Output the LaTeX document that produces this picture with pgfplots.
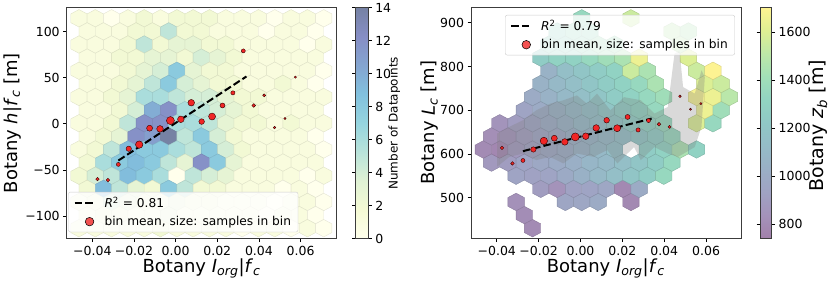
\documentclass[border=0pt]{standalone}
\usepackage{fontspec}
\setmainfont{DejaVu Sans}
\usepackage{pgfplots}
\pgfplotsset{compat=1.18}
\definecolor{dotred}{RGB}{240,38,38}
\definecolor{framegray}{RGB}{60,60,60}
\newcommand\tickfont{\fontsize{12.5}{15}\selectfont}
\newcommand\labfont{\fontsize{18}{21}\selectfont}
\newcommand\legfont{\fontsize{12.2}{14}\selectfont}
\pgfdeclareplotmark{hexL}{%
 \pgfpathmoveto{\pgfpoint{0pt}{8.73pt}}%
 \pgfpathlineto{\pgfpoint{8.16pt}{4.36pt}}%
 \pgfpathlineto{\pgfpoint{8.16pt}{-4.36pt}}%
 \pgfpathlineto{\pgfpoint{0pt}{-8.73pt}}%
 \pgfpathlineto{\pgfpoint{-8.16pt}{-4.36pt}}%
 \pgfpathlineto{\pgfpoint{-8.16pt}{4.36pt}}%
 \pgfpathclose\pgfusepathqfillstroke}
\pgfdeclareplotmark{hexR}{%
 \pgfpathmoveto{\pgfpoint{0pt}{8.76pt}}%
 \pgfpathlineto{\pgfpoint{8.2pt}{4.38pt}}%
 \pgfpathlineto{\pgfpoint{8.2pt}{-4.38pt}}%
 \pgfpathlineto{\pgfpoint{0pt}{-8.76pt}}%
 \pgfpathlineto{\pgfpoint{-8.2pt}{-4.38pt}}%
 \pgfpathlineto{\pgfpoint{-8.2pt}{4.38pt}}%
 \pgfpathclose\pgfusepathqfillstroke}
\pgfplotsset{
 colormap={ylgnbuA}{rgb255(0cm)=(255,255,236); rgb255(1cm)=(245,250,212); rgb255(2cm)=(224,242,212); rgb255(3cm)=(185,227,218); rgb255(4cm)=(150,213,223); rgb255(5cm)=(130,193,222); rgb255(6cm)=(132,165,208); rgb255(7cm)=(134,142,197); rgb255(8cm)=(118,130,164)},
 colormap={viridisA}{rgb255(0cm)=(162,128,170); rgb255(1cm)=(164,146,186); rgb255(2cm)=(160,162,195); rgb255(3cm)=(154,175,198); rgb255(4cm)=(149,188,199); rgb255(5cm)=(144,200,198); rgb255(6cm)=(145,212,194); rgb255(7cm)=(162,223,184); rgb255(8cm)=(189,232,168); rgb255(9cm)=(222,239,147); rgb255(10cm)=(254,243,146)},
 dashleg/.style={legend image code/.code={\draw[##1] (0pt,0pt) -- (21pt,0pt);}},
 base/.style={scale only axis, height=230.9pt, xmin=-0.0523, xmax=0.0770,
   axis on top, tick align=outside, major tick length=3.5pt,
   xtick pos=left, ytick pos=left,
   tick style={black, line width=0.8pt},
   axis line style={framegray, line width=0.8pt},
   ticklabel style={font=\tickfont},
   label style={font=\labfont},
   xtick={-0.04,-0.02,0,0.02,0.04,0.06},
   xticklabels={−0.04,−0.02,0.00,0.02,0.04,0.06},
   scaled ticks=false,
 },
 over/.style={scale only axis, height=230.9pt, xmin=-0.0523, xmax=0.0770, hide axis,
   legend cell align=left,
   legend style={fill=white, fill opacity=0.8, text opacity=1, draw=black!20, draw opacity=1, rounded corners=2pt, font=\legfont, nodes={font=\legfont}, inner xsep=5pt, inner ysep=3pt, row sep=3pt, /tikz/every odd column/.append style={column sep=6pt}},
 },
 cbbase/.style={tick align=outside, major tick length=3.5pt, tick style={black, line width=0.8pt}, axis line style={framegray, line width=0.8pt}, yticklabel style={font=\tickfont}},
 dots/.style={scatter, only marks, mark=*,
  scatter/use mapped color={draw=black!80!red, fill=dotred},
  visualization depends on={\thisrow{r} \as \rad},
  scatter/@pre marker code/.append style={/tikz/mark size=\rad},
  mark options={line width=0.4pt}, forget plot},
}
\begin{document}
\begin{tikzpicture}
\useasboundingbox (0,0) rectangle (830pt,283pt);
% ---------------- left ----------------
\begin{axis}[base, at={(66.7pt,44.3pt)}, anchor=south west, width=269.3pt,
  ymin=-124.7, ymax=126.1,
  ytick={-100,-50,0,50,100}, yticklabels={−100,−50,0,50,100},
  xlabel={Botany \textit{I}\textsubscript{\textit{org}}|\textit{f}\textsubscript{\textit{c}}},
  ylabel={Botany \textit{h}|\textit{f}\textsubscript{\textit{c}} [m]},
  xlabel style={at={(axis description cs:0.501,-0.128)}, anchor=center},
  ylabel style={at={(axis description cs:-0.201,0.5)}, anchor=center},
  colormap name=ylgnbuA, point meta min=0, point meta max=14,
  colorbar, colorbar style={cbbase, width=12.4pt, at={(parent axis.north east)}, anchor=north west, xshift=11.3pt,
    ytick={0,2,4,6,8,10,12,14}, yticklabels={0,2,4,6,8,10,12,14},
    ylabel={Number of Datapoints}, ylabel style={font=\fontsize{12}{14}\selectfont, at={(axis description cs:3.1,0.5)}, anchor=center}}]
\addplot[scatter, only marks, mark=hexL, point meta=explicit, scatter/use mapped color={draw=mapped color!90!black, fill=mapped color}, mark options={line width=0.4pt}, forget plot] coordinates {
(-0.04642,114.7)[1] (-0.03858,114.7)[1] (-0.03075,114.7)[0] (-0.02291,114.7)[1] (-0.01508,114.7)[2] (-0.00724,114.7)[1] (0.0006,114.7)[2] (0.00843,114.7)[2] (0.01627,114.7)[2] (0.0241,114.7)[1] (0.03194,114.7)[1] (0.03978,114.7)[1] (0.04761,114.7)[0] (0.05545,114.7)[1] (0.06328,114.7)[1] (0.07112,114.7)[0]
(-0.0425,100.45)[1] (-0.03466,100.45)[1] (-0.02683,100.45)[1] (-0.01899,100.45)[2] (-0.01116,100.45)[2] (-0.00332,100.45)[5] (0.00452,100.45)[2] (0.01235,100.45)[2] (0.02019,100.45)[1] (0.02802,100.45)[1] (0.03586,100.45)[1] (0.0437,100.45)[0] (0.05153,100.45)[1] (0.05937,100.45)[1] (0.0672,100.45)[0]
(-0.04642,86.2)[1] (-0.03858,86.2)[1] (-0.03075,86.2)[1] (-0.02291,86.2)[2] (-0.01508,86.2)[5] (-0.00724,86.2)[2] (0.0006,86.2)[3] (0.00843,86.2)[3] (0.01627,86.2)[2] (0.0241,86.2)[2] (0.03194,86.2)[1] (0.03978,86.2)[1] (0.04761,86.2)[1] (0.05545,86.2)[1] (0.06328,86.2)[0] (0.07112,86.2)[1]
(-0.0425,71.95)[1] (-0.03466,71.95)[1] (-0.02683,71.95)[2] (-0.01899,71.95)[2] (-0.01116,71.95)[3] (-0.00332,71.95)[3] (0.00452,71.95)[2] (0.01235,71.95)[4] (0.02019,71.95)[3] (0.02802,71.95)[2] (0.03586,71.95)[1] (0.0437,71.95)[1] (0.05153,71.95)[1] (0.05937,71.95)[1] (0.0672,71.95)[1]
(-0.04642,57.7)[1] (-0.03858,57.7)[1] (-0.03075,57.7)[1] (-0.02291,57.7)[2] (-0.01508,57.7)[3] (-0.00724,57.7)[4] (0.0006,57.7)[8] (0.00843,57.7)[3] (0.01627,57.7)[2] (0.0241,57.7)[2] (0.03194,57.7)[1] (0.03978,57.7)[1] (0.04761,57.7)[1] (0.05545,57.7)[1] (0.06328,57.7)[1] (0.07112,57.7)[0]
(-0.0425,43.45)[1] (-0.03466,43.45)[1] (-0.02683,43.45)[2] (-0.01899,43.45)[3] (-0.01116,43.45)[5] (-0.00332,43.45)[8] (0.00452,43.45)[4] (0.01235,43.45)[3] (0.02019,43.45)[2] (0.02802,43.45)[2] (0.03586,43.45)[1] (0.0437,43.45)[1] (0.05153,43.45)[2] (0.05937,43.45)[1] (0.0672,43.45)[0]
(-0.04642,29.2)[1] (-0.03858,29.2)[1] (-0.03075,29.2)[2] (-0.02291,29.2)[3] (-0.01508,29.2)[6] (-0.00724,29.2)[6] (0.0006,29.2)[5] (0.00843,29.2)[4] (0.01627,29.2)[4] (0.0241,29.2)[3] (0.03194,29.2)[2] (0.03978,29.2)[2] (0.04761,29.2)[1] (0.05545,29.2)[1] (0.06328,29.2)[1] (0.07112,29.2)[1]
(-0.0425,14.95)[1] (-0.03466,14.95)[1] (-0.02683,14.95)[2] (-0.01899,14.95)[4] (-0.01116,14.95)[10] (-0.00332,14.95)[12] (0.00452,14.95)[6] (0.01235,14.95)[5] (0.02019,14.95)[4] (0.02802,14.95)[3] (0.03586,14.95)[2] (0.0437,14.95)[1] (0.05153,14.95)[1] (0.05937,14.95)[1] (0.0672,14.95)[1]
(-0.04642,0.7)[1] (-0.03858,0.7)[1] (-0.03075,0.7)[2] (-0.02291,0.7)[5] (-0.01508,0.7)[12] (-0.00724,0.7)[12] (0.0006,0.7)[6] (0.00843,0.7)[6] (0.01627,0.7)[5] (0.0241,0.7)[3] (0.03194,0.7)[2] (0.03978,0.7)[2] (0.04761,0.7)[1] (0.05545,0.7)[2] (0.06328,0.7)[1] (0.07112,0.7)[1]
(-0.0425,-13.55)[1] (-0.03466,-13.55)[2] (-0.02683,-13.55)[3] (-0.01899,-13.55)[12] (-0.01116,-13.55)[11] (-0.00332,-13.55)[14] (0.00452,-13.55)[5] (0.01235,-13.55)[8] (0.02019,-13.55)[4] (0.02802,-13.55)[2] (0.03586,-13.55)[1] (0.0437,-13.55)[1] (0.05153,-13.55)[1] (0.05937,-13.55)[1] (0.0672,-13.55)[0]
(-0.04642,-27.8)[1] (-0.03858,-27.8)[2] (-0.03075,-27.8)[5] (-0.02291,-27.8)[9] (-0.01508,-27.8)[8] (-0.00724,-27.8)[8] (0.0006,-27.8)[6] (0.00843,-27.8)[5] (0.01627,-27.8)[8] (0.0241,-27.8)[4] (0.03194,-27.8)[2] (0.03978,-27.8)[1] (0.04761,-27.8)[1] (0.05545,-27.8)[1] (0.06328,-27.8)[1] (0.07112,-27.8)[0]
(-0.0425,-42.05)[2] (-0.03466,-42.05)[6] (-0.02683,-42.05)[8] (-0.01899,-42.05)[9] (-0.01116,-42.05)[8] (-0.00332,-42.05)[5] (0.00452,-42.05)[3] (0.01235,-42.05)[12] (0.02019,-42.05)[8] (0.02802,-42.05)[3] (0.03586,-42.05)[1] (0.0437,-42.05)[1] (0.05153,-42.05)[1] (0.05937,-42.05)[1] (0.0672,-42.05)[1]
(-0.04642,-56.3)[2] (-0.03858,-56.3)[4] (-0.03075,-56.3)[5] (-0.02291,-56.3)[9] (-0.01508,-56.3)[8] (-0.00724,-56.3)[6] (0.0006,-56.3)[0] (0.00843,-56.3)[5] (0.01627,-56.3)[4] (0.0241,-56.3)[3] (0.03194,-56.3)[1] (0.03978,-56.3)[1] (0.04761,-56.3)[1] (0.05545,-56.3)[1] (0.06328,-56.3)[0] (0.07112,-56.3)[1]
(-0.0425,-70.55)[2] (-0.03466,-70.55)[9] (-0.02683,-70.55)[5] (-0.01899,-70.55)[3] (-0.01116,-70.55)[2] (-0.00332,-70.55)[8] (0.00452,-70.55)[5] (0.01235,-70.55)[2] (0.02019,-70.55)[2] (0.02802,-70.55)[1] (0.03586,-70.55)[1] (0.0437,-70.55)[1] (0.05153,-70.55)[0] (0.05937,-70.55)[1] (0.0672,-70.55)[0]
(-0.04642,-84.8)[1] (-0.03858,-84.8)[2] (-0.03075,-84.8)[4] (-0.02291,-84.8)[3] (-0.01508,-84.8)[2] (-0.00724,-84.8)[1] (0.0006,-84.8)[3] (0.00843,-84.8)[2] (0.01627,-84.8)[2] (0.0241,-84.8)[1] (0.03194,-84.8)[1] (0.03978,-84.8)[1] (0.04761,-84.8)[0] (0.05545,-84.8)[1] (0.06328,-84.8)[1] (0.07112,-84.8)[0]
(-0.0425,-99.05)[1] (-0.03466,-99.05)[2] (-0.02683,-99.05)[2] (-0.01899,-99.05)[1] (-0.01116,-99.05)[1] (-0.00332,-99.05)[3] (0.00452,-99.05)[1] (0.01235,-99.05)[1] (0.02019,-99.05)[1] (0.02802,-99.05)[1] (0.03586,-99.05)[1] (0.0437,-99.05)[0] (0.05153,-99.05)[1] (0.05937,-99.05)[1] (0.0672,-99.05)[0]
(-0.04642,-113.3)[1] (-0.03858,-113.3)[1] (-0.03075,-113.3)[1] (-0.02291,-113.3)[1] (-0.01508,-113.3)[1] (-0.00724,-113.3)[2] (0.0006,-113.3)[1] (0.00843,-113.3)[1] (0.01627,-113.3)[1] (0.0241,-113.3)[1] (0.03194,-113.3)[0] (0.03978,-113.3)[1] (0.04761,-113.3)[1] (0.05545,-113.3)[0] (0.06328,-113.3)[1] (0.07112,-113.3)[0]
};
\end{axis}
\begin{axis}[over, at={(66.7pt,44.3pt)}, anchor=south west, width=269.3pt,
  ymin=-124.7, ymax=126.1,
  legend style={at={(0.006,0.028)}, anchor=south west}]
\addplot[black, line width=2pt, dash pattern=on 7.4pt off 3.2pt, dashleg] coordinates {(-0.0275,-39.8) (0.0340,51.5)};
\addlegendentry{\textit{R}\textsuperscript{2} = 0.81}
\addplot[dots, point meta=1] table[x=x,y=y] {
x y r
-0.0375 -60 1.8
-0.0325 -61 1.8
-0.0275 -44 2.0
-0.0225 -27 2.7
-0.0175 -22.5 3.7
-0.0125 -4.7 3.0
-0.0075 -5.4 3.3
-0.0025 3.6 4.0
0.0025 5 3.3
0.0075 23 3.3
0.0125 2.5 2.8
0.0175 8 3.5
0.0225 20 2.5
0.0275 33.7 2.1
0.0325 79.3 2.0
0.0375 20 1.8
0.0425 31 1.5
0.0475 -4 1.3
0.0525 5.8 1.1
0.0575 50.8 1.1
};
\addlegendimage{legend image code/.code={\node[circle, draw=black, fill=dotred, line width=0.5pt, inner sep=0pt, minimum size=8.6pt] at (10.5pt,0pt) {};}}
\addlegendentry{bin mean, size: samples in bin}
\end{axis}
% ---------------- right ----------------
\begin{axis}[base, at={(471pt,44.3pt)}, anchor=south west, width=270.7pt,
  ymin=406.5, ymax=934.2,
  ytick={500,600,700,800,900}, yticklabels={500,600,700,800,900},
  xlabel={Botany \textit{I}\textsubscript{\textit{org}}|\textit{f}\textsubscript{\textit{c}}},
  ylabel={Botany \textit{L}\textsubscript{\textit{c}} [m]},
  xlabel style={at={(axis description cs:0.498,-0.128)}, anchor=center},
  ylabel style={at={(axis description cs:-0.1515,0.503)}, anchor=center},
  colormap name=viridisA, point meta min=740, point meta max=1702,
  colorbar, colorbar style={cbbase, width=11.6pt, at={(parent axis.north east)}, anchor=north west, xshift=9.8pt,
    ytick={800,1000,1200,1400,1600}, yticklabels={800,1000,1200,1400,1600},
    ylabel={Botany \textit{z}\textsubscript{\textit{b}} [m]}, ylabel style={font=\fontsize{19}{22}\selectfont, at={(axis description cs:5.0,0.49)}, anchor=center}}]
\addplot[scatter, only marks, mark=hexR, point meta=explicit, scatter/use mapped color={draw=mapped color!85!black, fill=mapped color}, mark options={line width=0.4pt}, forget plot] coordinates {
(-0.02291,430.5)[800]
(-0.02683,460.5)[810]
(-0.03075,490.5)[830] (-0.00724,490.5)[960] (0.0006,490.5)[970] (0.00843,490.5)[1000] (0.0241,490.5)[790]
(-0.01899,520.4)[900] (-0.01116,520.4)[840] (-0.00332,520.4)[930] (0.00452,520.4)[950] (0.01235,520.4)[970] (0.02019,520.4)[790] (0.02802,520.4)[1000]
(-0.03075,550.4)[950] (-0.02291,550.4)[930] (-0.01508,550.4)[950] (-0.00724,550.4)[990] (0.0006,550.4)[1040] (0.00843,550.4)[1100] (0.01627,550.4)[1150] (0.0241,550.4)[1200] (0.03194,550.4)[1250] (0.03978,550.4)[1350]
(-0.0425,580.4)[880] (-0.03466,580.4)[900] (-0.02683,580.4)[950] (-0.01899,580.4)[980] (-0.01116,580.4)[1000] (-0.00332,580.4)[1030] (0.00452,580.4)[1080] (0.01235,580.4)[1100] (0.02019,580.4)[1150] (0.02802,580.4)[1200] (0.03586,580.4)[1250] (0.0437,580.4)[1350]
(-0.04642,610.4)[800] (-0.03858,610.4)[780] (-0.03075,610.4)[880] (-0.02291,610.4)[930] (-0.01508,610.4)[970] (-0.00724,610.4)[1000] (0.0006,610.4)[1050] (0.00843,610.4)[1100] (0.01627,610.4)[1150] (0.03194,610.4)[1250] (0.03978,610.4)[1300] (0.04761,610.4)[1450] (0.05545,610.4)[1300]
(-0.0425,640.3)[820] (-0.03466,640.3)[850] (-0.02683,640.3)[900] (-0.01899,640.3)[950] (-0.01116,640.3)[980] (-0.00332,640.3)[1020] (0.00452,640.3)[1060] (0.01235,640.3)[1100] (0.02019,640.3)[1150] (0.02802,640.3)[1200] (0.03586,640.3)[1250] (0.0437,640.3)[1350]
(-0.03858,670.3)[850] (-0.03075,670.3)[900] (-0.02291,670.3)[950] (-0.01508,670.3)[1000] (-0.00724,670.3)[1050] (0.0006,670.3)[1100] (0.00843,670.3)[1150] (0.01627,670.3)[1200] (0.0241,670.3)[1250] (0.03194,670.3)[1300] (0.03978,670.3)[1350] (0.05545,670.3)[1600] (0.06328,670.3)[1350]
(-0.02683,700.3)[950] (-0.01899,700.3)[1000] (-0.01116,700.3)[1050] (-0.00332,700.3)[1100] (0.00452,700.3)[1150] (0.01235,700.3)[1200] (0.02019,700.3)[1250] (0.02802,700.3)[1300] (0.03586,700.3)[1350] (0.05937,700.3)[1650] (0.0672,700.3)[1400]
(-0.02291,730.3)[1000] (-0.01508,730.3)[1050] (-0.00724,730.3)[1100] (0.0006,730.3)[1150] (0.00843,730.3)[1200] (0.01627,730.3)[1250] (0.0241,730.3)[1300] (0.03194,730.3)[1350] (0.03978,730.3)[1400] (0.05545,730.3)[1680] (0.06328,730.3)[1650] (0.07112,730.3)[1500]
(-0.01899,760.2)[1050] (-0.01116,760.2)[1100] (-0.00332,760.2)[1150] (0.00452,760.2)[1200] (0.01235,760.2)[1250] (0.02019,760.2)[1300] (0.02802,760.2)[1350] (0.03586,760.2)[1450] (0.05937,760.2)[1600] (0.0672,760.2)[1550]
(-0.01508,790.2)[1050] (-0.00724,790.2)[1150] (0.0006,790.2)[1200] (0.00843,790.2)[1250] (0.01627,790.2)[1300] (0.0241,790.2)[1550] (0.03194,790.2)[1450] (0.05545,790.2)[1550] (0.06328,790.2)[1700]
(-0.01899,820.2)[1250] (-0.01116,820.2)[1300] (-0.00332,820.2)[1300] (0.00452,820.2)[1350] (0.01235,820.2)[1400] (0.02019,820.2)[1450] (0.02802,820.2)[1650] (0.05153,820.2)[1600]
(-0.01508,850.2)[1300] (-0.00724,850.2)[1300] (0.0006,850.2)[1350] (0.00843,850.2)[1400] (0.01627,850.2)[1400] (0.04761,850.2)[1500]
(-0.01116,880.1)[1300] (-0.00332,880.1)[1350] (0.00452,880.1)[1350] (0.0437,880.1)[1500] (0.05153,880.1)[1450]
(0.0006,910.1)[1350] (0.0241,910.1)[1550]
};
\end{axis}
\begin{axis}[over, at={(471pt,44.3pt)}, anchor=south west, width=270.7pt,
  ymin=406.5, ymax=934.2,
  legend style={at={(0.975,0.969)}, anchor=north east}]
\addplot[fill=gray, fill opacity=0.3, draw=none, forget plot] coordinates {
(-0.0398,646.9) (-0.034,662) (-0.0275,677.2) (-0.0211,700) (-0.0146,715) (-0.0082,722.8) (-0.0017,734) (0.0031,715) (0.0079,738) (0.0143,700) (0.0208,730) (0.0288,723) (0.0353,692.5) (0.0417,707.5) (0.0449,829) (0.0473,837) (0.049,753) (0.0546,738) (0.0578,791) (0.0594,776) (0.0578,662) (0.0546,616) (0.0466,593.5) (0.0417,601) (0.0353,616) (0.0288,586) (0.0256,616) (0.0208,593.5) (0.0176,578.5) (0.0128,609) (0.0063,593.5) (-0.0017,601) (-0.0082,578.5) (-0.0146,593.5) (-0.0211,586) (-0.0275,601) (-0.034,593.5) (-0.0398,571)
} -- cycle;
\addplot[black, line width=2pt, dash pattern=on 7.4pt off 3.2pt, dashleg] coordinates {(-0.0275,606.5) (0.0340,681)};
\addlegendentry{\textit{R}\textsuperscript{2} = 0.79}
\addplot[dots, point meta=1000] table[x=x,y=y] {
x y r
-0.0375 614 1.8
-0.0325 578.5 1.8
-0.0275 585.3 2.0
-0.0225 610.4 2.7
-0.0175 630 3.7
-0.0125 636.1 3.0
-0.0075 627.7 3.3
-0.0025 639.1 4.0
0.0025 640.7 3.3
0.0075 659.6 3.3
0.0125 677.2 2.8
0.0175 659 3.5
0.0225 684.7 2.5
0.0275 655 2.1
0.0325 676.5 2.0
0.0375 668 1.8
0.0425 662 1.5
0.0475 732 1.3
0.0525 702.3 1.1
0.0575 715.3 1.1
};
\addlegendimage{legend image code/.code={\node[circle, draw=black, fill=dotred, line width=0.5pt, inner sep=0pt, minimum size=8.6pt] at (10.5pt,0pt) {};}}
\addlegendentry{bin mean, size: samples in bin}
\end{axis}
\end{tikzpicture}
\end{document}
